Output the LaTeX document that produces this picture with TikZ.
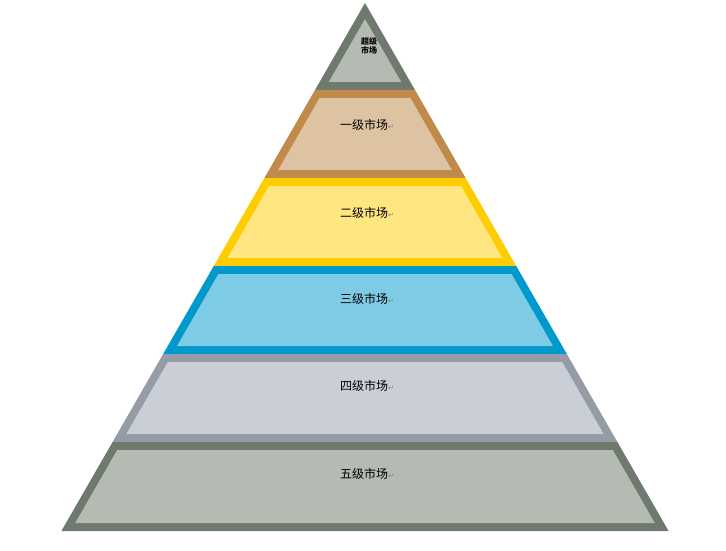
\documentclass[tikz,border=0pt]{standalone}
\usepackage{fontspec}
\newfontfamily\cjk{Noto Sans CJK SC}
\newfontfamily\dv{DejaVu Sans}
\definecolor{b0}{HTML}{6F7A6F}\definecolor{f0}{HTML}{B5BAB3}
\definecolor{b1}{HTML}{BF8A4A}\definecolor{f1}{HTML}{DEC3A3}
\definecolor{b2}{HTML}{FFCC00}\definecolor{f2}{HTML}{FFE681}
\definecolor{b3}{HTML}{0099CC}\definecolor{f3}{HTML}{7ECBE5}
\definecolor{b4}{HTML}{959CA6}\definecolor{f4}{HTML}{CACED6}
\definecolor{b5}{HTML}{6F7A6F}\definecolor{f5}{HTML}{B5BAB3}
\tikzset{lbl/.style={font=\cjk\fontsize{12}{14}\selectfont, inner sep=0pt}}
\newcommand{\rmark}{{\dv\fontsize{7}{8}\selectfont\textcolor{gray}{↵}}}
\begin{document}
\begin{tikzpicture}[x=1pt,y=-1pt]
\useasboundingbox (0,0) rectangle (726,551);
% top triangle
\fill[b0] (365,3) -- (365-50.0,90) -- (365+50.0,90) -- cycle;
\pgfmathsetmacro{\ia}{19}
\pgfmathsetmacro{\iw}{0.575*(82-\ia)}
\fill[f0] (365,\ia) -- (365-\iw,82) -- (365+\iw,82) -- cycle;
\foreach \t/\b/\k in {90/178/1,178/266/2,266/354/3,354/442/4,442/531/5}{
  \pgfmathsetmacro{\wt}{0.575*(\t-3)}
  \pgfmathsetmacro{\wb}{0.575*(\b-3)}
  \fill[b\k] (365-\wt,\t) -- (365+\wt,\t) -- (365+\wb,\b) -- (365-\wb,\b) -- cycle;
  \pgfmathsetmacro{\wti}{0.575*(\t+8-3)-9.2}
  \pgfmathsetmacro{\wbi}{0.575*(\b-8-3)-9.2}
  \fill[f\k] (365-\wti,\t+8) -- (365+\wti,\t+8) -- (365+\wbi,\b-8) -- (365-\wbi,\b-8) -- cycle;
}
\node[font=\cjk\bfseries\fontsize{8}{9}\selectfont, align=center, inner sep=0pt] (l0) at (369,46) {超级\\市场};
\node[lbl] (l1) at (367,125) {一级市场\rmark};
\node[lbl] (l2) at (367,213) {二级市场\rmark};
\node[lbl] (l3) at (367,299) {三级市场\rmark};
\node[lbl] (l4) at (367,386) {四级市场\rmark};
\node[lbl] (l5) at (367,474) {五级市场\rmark};
\end{tikzpicture}
\end{document}
